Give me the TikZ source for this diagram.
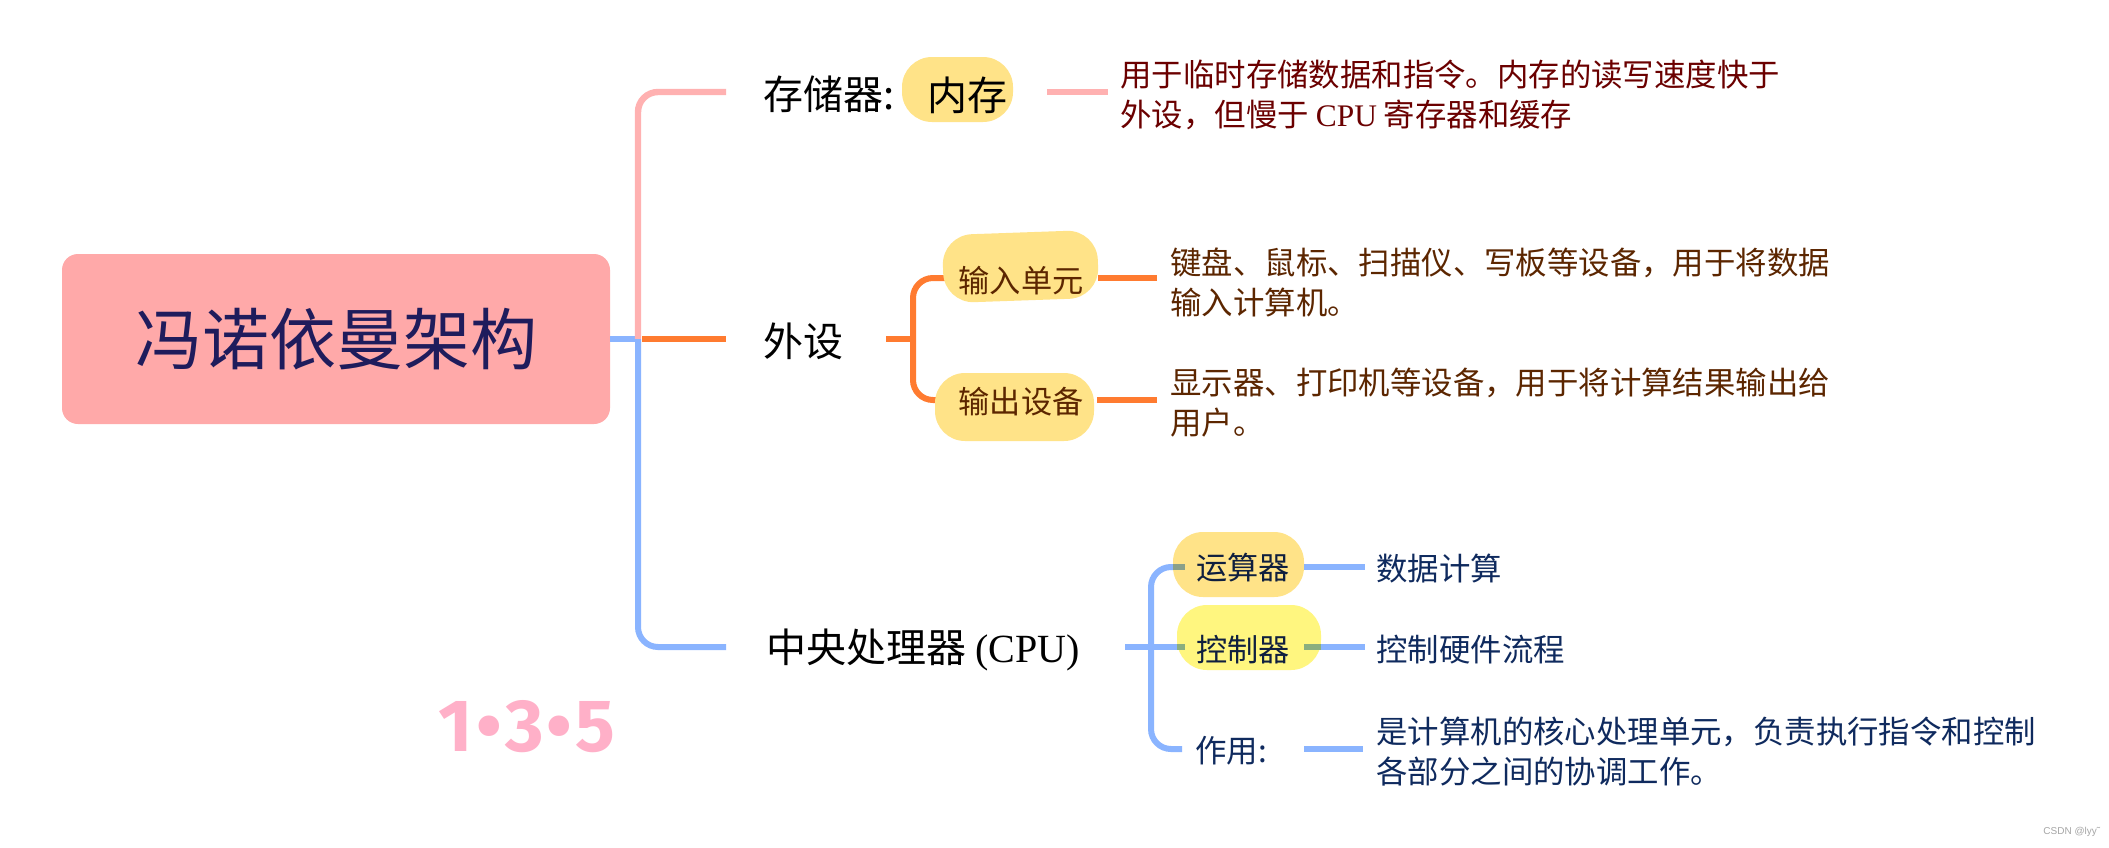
\documentclass[tikz,border=0pt]{standalone}
\usepackage{fontspec}
\setmainfont{Liberation Serif}
\newfontfamily\cjk{Noto Sans CJK SC}
\newfontfamily\numfont{Fira Sans}
\newfontfamily\wmfont{Liberation Sans}
\usetikzlibrary{calc}
\definecolor{rootfill}{HTML}{FFA9A9}
\definecolor{roottext}{HTML}{1F1C5C}
\definecolor{pinkc}{HTML}{FFB1B1}
\definecolor{orangec}{HTML}{FF7B30}
\definecolor{bluec}{HTML}{8AB4FF}
\definecolor{pillyel}{HTML}{FFE388}
\definecolor{pillbright}{HTML}{FFF67F}
\definecolor{memtext}{HTML}{6B0000}
\definecolor{pertext}{HTML}{5C2600}
\definecolor{cputext}{HTML}{0F2A5E}
\definecolor{pilldark}{HTML}{0F1F3F}
\definecolor{numpink}{HTML}{FFB0C8}
\definecolor{mixalu}{HTML}{8AA08A}
\definecolor{mixctl}{HTML}{8AAE7F}
\begin{document}
\begin{tikzpicture}[x=0.5pt,y=-0.5pt,
  pinkline/.style={line width=3.2pt, draw=pinkc},
  orangeline/.style={line width=3pt, draw=orangec},
  blueline/.style={line width=3pt, draw=bluec},
  rootbox/.style={fill=rootfill, rounded corners=8pt, inner sep=0pt, text=roottext,
    font=\cjk\fontsize{33.5}{40}\selectfont},
  pill/.style={rounded corners=15pt, inner sep=0pt},
  lab/.style={anchor=west, inner sep=0pt, font=\cjk\fontsize{20}{24}\selectfont, text=black},
  pilltext/.style={inner sep=0pt, font=\cjk\fontsize{15.6}{20}\selectfont},
  desc/.style={anchor=north west, inner sep=0pt, align=left, font=\cjk\fontsize{15.7}{20}\selectfont},
  small/.style={anchor=west, inner sep=0pt, font=\cjk\fontsize{15.7}{20}\selectfont, text=cputext}]
\fill[white] (0,0) rectangle (2109,847);
\useasboundingbox (0,0) rectangle (2109,847);

% root
\node[rootbox, minimum width=274pt, minimum height=85pt] (root) at (336,339) {冯诺依曼架构};

% trunk coordinates
\coordinate (jr) at (638,339);
\coordinate (jro) at (642,339);
\coordinate (pinkend) at (726,92);
\coordinate (orangeend) at (726,339);
\coordinate (blueend) at (726,647);

\draw[blueline] (root.east) -- (jr);
\draw[pinkline, rounded corners=10pt] (jr) |- (pinkend);
\draw[blueline, rounded corners=10pt] (jr) |- (blueend);
\draw[orangeline] (jro) -- (orangeend);

% ---------- memory ----------
\node[lab] (memlab) at (763,94) {存储器:};
\node[pill, fill=pillyel, minimum width=55.5pt, minimum height=32.5pt] (memp) at (957.5,89.5) {};
\node[pilltext, anchor=west, font=\cjk\fontsize{20}{24}\selectfont, text=black] (memt) at (927,95) {内存};
\coordinate (mema) at (1047,92);
\coordinate (memb) at (1108,92);
\draw[pinkline] (mema) -- (memb);
\node[desc, text=memtext] (memd) at (1120,60) {用于临时存储数据和指令。内存的读写速度快于\\外设，但慢于 {\rmfamily CPU} 寄存器和缓存};

% ---------- peripherals ----------
\node[lab] (perlab) at (763,341) {外设};
\coordinate (po) at (886,339);
\coordinate (pj) at (913,339);
\coordinate (inpin) at (947,278);
\coordinate (outin) at (947,400);
\draw[orangeline] (po) -- (pj);
\draw[orangeline, rounded corners=10pt] (inpin) -| (pj) |- (outin);

\node[pill, fill=pillyel, minimum width=77.5pt, minimum height=34pt, rotate=2] (inp) at (1020.5,266.5) {};
\node[pilltext, text=pertext] (inpt) at (1021,281) {输入单元};
\node[pill, fill=pillyel, minimum width=79.5pt, minimum height=34pt] (outp) at (1014.5,407) {};
\node[pilltext, text=pertext] (outt) at (1021,402) {输出设备};

\coordinate (inpa) at (1098,278);
\coordinate (inpb) at (1157,278);
\draw[orangeline] (inpa) -- (inpb);
\coordinate (outa) at (1097,400);
\coordinate (outb) at (1157,400);
\draw[orangeline] (outa) -- (outb);

\node[desc, text=pertext] (inpd) at (1170,247) {键盘、鼠标、扫描仪、写板等设备，用于将数据\\输入计算机。};
\node[desc, text=pertext] (outd) at (1170,368) {显示器、打印机等设备，用于将计算结果输出给\\用户。};

% ---------- CPU ----------
\node[lab] (cpulab) at (766,650) {中央处理器 {\rmfamily (CPU)}};
\coordinate (co) at (1125,647);
\coordinate (cj) at (1151,647);
\coordinate (aluin) at (1173,567);
\coordinate (ctlin) at (1177,647);
\coordinate (zyin) at (1182,749);
\draw[blueline] (co) -- (cj);
\draw[blueline, rounded corners=10pt] (aluin) -| (cj) |- (zyin);
\draw[blueline] (cj) -- (ctlin);

\node[pill, fill=pillyel, minimum width=65.5pt, minimum height=32.5pt] (alup) at (1238.5,564.5) {};
\node[pill, fill=pillbright, minimum width=72pt, minimum height=32.5pt] (ctlp) at (1249,637.5) {};

% connector parts seen through the pills
\coordinate (alumix) at (1185,567);
\coordinate (ctlmix) at (1185,647);
\draw[line width=3pt, draw=mixalu] (aluin) -- (alumix);
\draw[line width=3pt, draw=mixctl] (ctlin) -- (ctlmix);

\node[pilltext, anchor=west, text=pilldark] (alut) at (1196,568) {运算器};
\node[pilltext, anchor=west, text=pilldark] (ctlt) at (1196,650) {控制器};
\node[pilltext, anchor=west, text=cputext, font=\cjk\fontsize{15.7}{20}\selectfont] (zyt) at (1195,751) {作用:};

\coordinate (alua) at (1304,567);
\coordinate (alub) at (1365,567);
\draw[blueline] (alua) -- (alub);
\coordinate (ctla) at (1304,647);
\coordinate (ctlm) at (1321,647);
\coordinate (ctlb) at (1365,647);
\draw[line width=3pt, draw=mixctl] (ctla) -- (ctlm);
\draw[blueline] (ctlm) -- (ctlb);
\coordinate (zya) at (1304,749);
\coordinate (zyb) at (1363,749);
\draw[blueline] (zya) -- (zyb);

\node[small] (alud) at (1376,569) {数据计算};
\node[small] (ctld) at (1376,650) {控制硬件流程};
\node[desc, text=cputext] (zyd) at (1376,717) {是计算机的核心处理单元，负责执行指令和控制\\各部分之间的协调工作。};

% ---------- misc ----------
\node[anchor=base west, inner sep=0pt, font=\numfont\bfseries\fontsize{37}{37}\selectfont, text=numpink] (num) at (438,751) {1\kern1.7pt•\kern1.7pt3\kern1.7pt•\kern1.7pt5};
\node[anchor=west, inner sep=0pt, font=\wmfont\fontsize{5}{6}\selectfont, text=black!35] (wm) at (2043,832) {CSDN @lyy˜};
\end{tikzpicture}
\end{document}
